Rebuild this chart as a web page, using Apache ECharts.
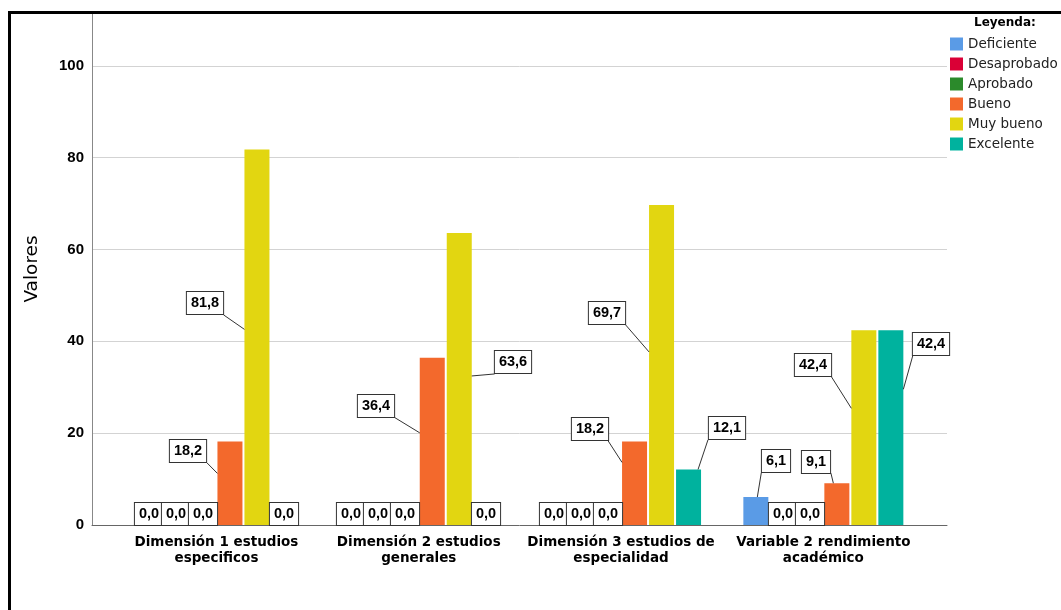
<!DOCTYPE html>
<html>
<head>
<meta charset="utf-8">
<script src="https://cdn.jsdelivr.net/npm/echarts@6/dist/echarts.min.js"></script>
<style>
html,body{margin:0;padding:0;background:#fff;}
#chart{width:1061px;height:610px;}
</style>
</head>
<body>
<div id="chart"></div>
<script>
// ---- data ----
const categories = [
  'Dimensión 1 estudios\nespecificos',
  'Dimensión 2 estudios\ngenerales',
  'Dimensión 3 estudios de\nespecialidad',
  'Variable 2 rendimiento\nacadémico'
];
const seriesNames = ['Deficiente', 'Desaprobado', 'Aprobado', 'Bueno', 'Muy bueno', 'Excelente'];
const deficiente  = [0, 0, 0, 6.1];
const desaprobado = [0, 0, 0, 0];
const aprobado    = [0, 0, 0, 0];
const bueno       = [18.2, 36.4, 18.2, 9.1];
const muyBueno    = [81.8, 63.6, 69.7, 42.4];
const excelente   = [0, 0, 12.1, 42.4];
const yTicks = [0, 20, 40, 60, 80, 100];

// ---- styles ----
const colors = ['#5A9BE6', '#DA0036', '#2B8A2B', '#F3692C', '#E2D611', '#00B29E'];
const SANS = '"Liberation Sans", Arial, sans-serif';
const WIDE = '"DejaVu Sans", sans-serif';
const BAR_W = 25, BAR_GAP = 2;               // px
const LABEL_FONT_SIZE = 14.5, LABEL_LH = 16, PAD = [3, 4, 3, 4];
// label box placement relative to bar's top-left: [centerDx, centerDy, lineEndDx, lineEndDy]
const leaders = {
  '3-0': [-29, 10, 0, 32],
  '4-0': [-39.5, 154, 0, 180],
  '3-1': [-44, 48, 0, 75],
  '4-1': [66.5, 129.5, 25, 143],
  '3-2': [-32.5, -12, 0, 21],
  '4-2': [-42, 108.5, 0, 147],
  '5-2': [50.5, -41, 22, 0],
  '0-3': [32.5, -35.5, 14, 0],
  '3-3': [-8, -21.5, 9, 0],
  '4-3': [-38.5, 35, 0, 78],
  '5-3': [53, 14, 25, 59]
};

const allValues = [deficiente, desaprobado, aprobado, bueno, muyBueno, excelente];

const measureCtx = document.createElement('canvas').getContext('2d');
measureCtx.font = 'bold ' + LABEL_FONT_SIZE + 'px "Liberation Sans", Arial, sans-serif';

const fmt = v => v.toFixed(1).replace('.', ',');

const chart = echarts.init(document.getElementById('chart'), null, {renderer: 'canvas'});

const barSeries = allValues.map((vals, i) => ({
  name: seriesNames[i],
  type: 'bar',
  xAxisIndex: 1,
  yAxisIndex: 1,
  barWidth: BAR_W,
  barGap: (BAR_GAP / BAR_W * 100) + '%',
  itemStyle: {color: colors[i]},
  data: vals
}));

const labelData = [];
allValues.forEach((vals, s) => vals.forEach((v, c) => labelData.push([c, v, s])));

const nSeries = allValues.length;
const groupW = nSeries * BAR_W + (nSeries - 1) * BAR_GAP;

const labelSeries = {
  type: 'custom',
  xAxisIndex: 1,
  yAxisIndex: 1,
  z: 5,
  silent: true,
  dimensions: ['cat', 'val', 'ser'],
  encode: {x: 0, y: 1},
  data: labelData,
  renderItem: function (params, api) {
    const c = api.value(0), v = api.value(1), s = api.value(2);
    const base = api.coord([c, 0]);
    const top = api.coord([c, v]);
    const bx = base[0] - groupW / 2 + s * (BAR_W + BAR_GAP);
    const by = top[1];
    const text = fmt(v);
    const w = measureCtx.measureText(text).width + PAD[1] + PAD[3] + 1;
    const h = LABEL_LH + PAD[0] + PAD[2] + 1;
    const L = leaders[s + '-' + c];
    let cx, cy;
    const children = [];
    if (!L) {
      cx = bx + BAR_W / 2;
      cy = base[1] - h / 2;
    } else {
      cx = bx + L[0];
      cy = by + L[1];
      const ex = bx + L[2], ey = by + L[3];
      const sx = Math.min(Math.max(ex, cx - w / 2), cx + w / 2);
      const sy = Math.min(Math.max(ey, cy - h / 2), cy + h / 2);
      children.push({
        type: 'line',
        shape: {x1: sx, y1: sy, x2: ex, y2: ey},
        style: {stroke: '#333', lineWidth: 1}
      });
    }
    children.push({
      type: 'text',
      x: Math.round(cx),
      y: Math.round(cy),
      style: {
        text: text,
        fontFamily: SANS,
        fontSize: LABEL_FONT_SIZE,
        fontWeight: 'bold',
        fill: '#000',
        align: 'center',
        verticalAlign: 'middle',
        lineHeight: LABEL_LH,
        backgroundColor: '#fff',
        borderColor: '#333',
        borderWidth: 1,
        padding: PAD
      }
    });
    return {type: 'group', children: children};
  }
};

const option = {
  animation: false,
  backgroundColor: '#fff',
  title: {
    text: 'Leyenda:',
    left: 974,
    top: 17,
    padding: 0,
    textStyle: {fontFamily: WIDE, fontSize: 12, fontWeight: 'bold', color: '#000'}
  },
  legend: {
    orient: 'vertical',
    left: 950,
    top: 37,
    padding: 0,
    itemWidth: 13,
    itemHeight: 13,
    itemGap: 6,
    icon: 'rect',
    data: seriesNames,
    textStyle: {fontFamily: WIDE, fontSize: 13.5, color: '#222'}
  },
  grid: [
    {left: 92, right: 114, top: 13, bottom: 85},
    {left: 115.3, right: 136.5, top: 13, bottom: 85}
  ],
  xAxis: [
    {
      type: 'value', gridIndex: 0, min: 0, max: 1,
      axisLine: {show: true, lineStyle: {color: '#666', width: 1}},
      axisTick: {show: false}, axisLabel: {show: false}, splitLine: {show: false}
    },
    {
      type: 'category', gridIndex: 1, data: categories,
      axisLine: {show: false}, axisTick: {show: false},
      axisLabel: {
        fontFamily: WIDE, fontSize: 13.5, fontWeight: 'bold', color: '#000',
        lineHeight: 15.5, margin: 10, interval: 0
      }
    }
  ],
  yAxis: [
    {
      type: 'value', gridIndex: 0, min: 0, max: 111.5, interval: 20,
      name: 'Valores', nameLocation: 'middle', nameGap: 50,
      nameTextStyle: {fontFamily: WIDE, fontSize: 18.5, color: '#000'},
      axisLine: {show: true, lineStyle: {color: '#888', width: 1}},
      axisTick: {show: false},
      axisLabel: {
        fontFamily: SANS, fontSize: 15, fontWeight: 'bold', color: '#000', margin: 8,
        showMaxLabel: false,
        formatter: v => (yTicks.indexOf(v) >= 0 ? String(v) : '')
      },
      splitLine: {show: true, showMinLine: false, showMaxLine: false, lineStyle: {color: '#d3d3d3', width: 1}}
    },
    {
      type: 'value', gridIndex: 1, min: 0, max: 111.5, interval: 20,
      axisLine: {show: false}, axisTick: {show: false}, axisLabel: {show: false}, splitLine: {show: false}
    }
  ],
  graphic: [{
    type: 'rect', silent: true, z: 100,
    shape: {x: 9.5, y: 12.5, width: 1200, height: 800},
    style: {fill: 'none', stroke: '#000', lineWidth: 3}
  }],
  series: barSeries.concat([labelSeries])
};

chart.setOption(option);
</script>
</body>
</html>
